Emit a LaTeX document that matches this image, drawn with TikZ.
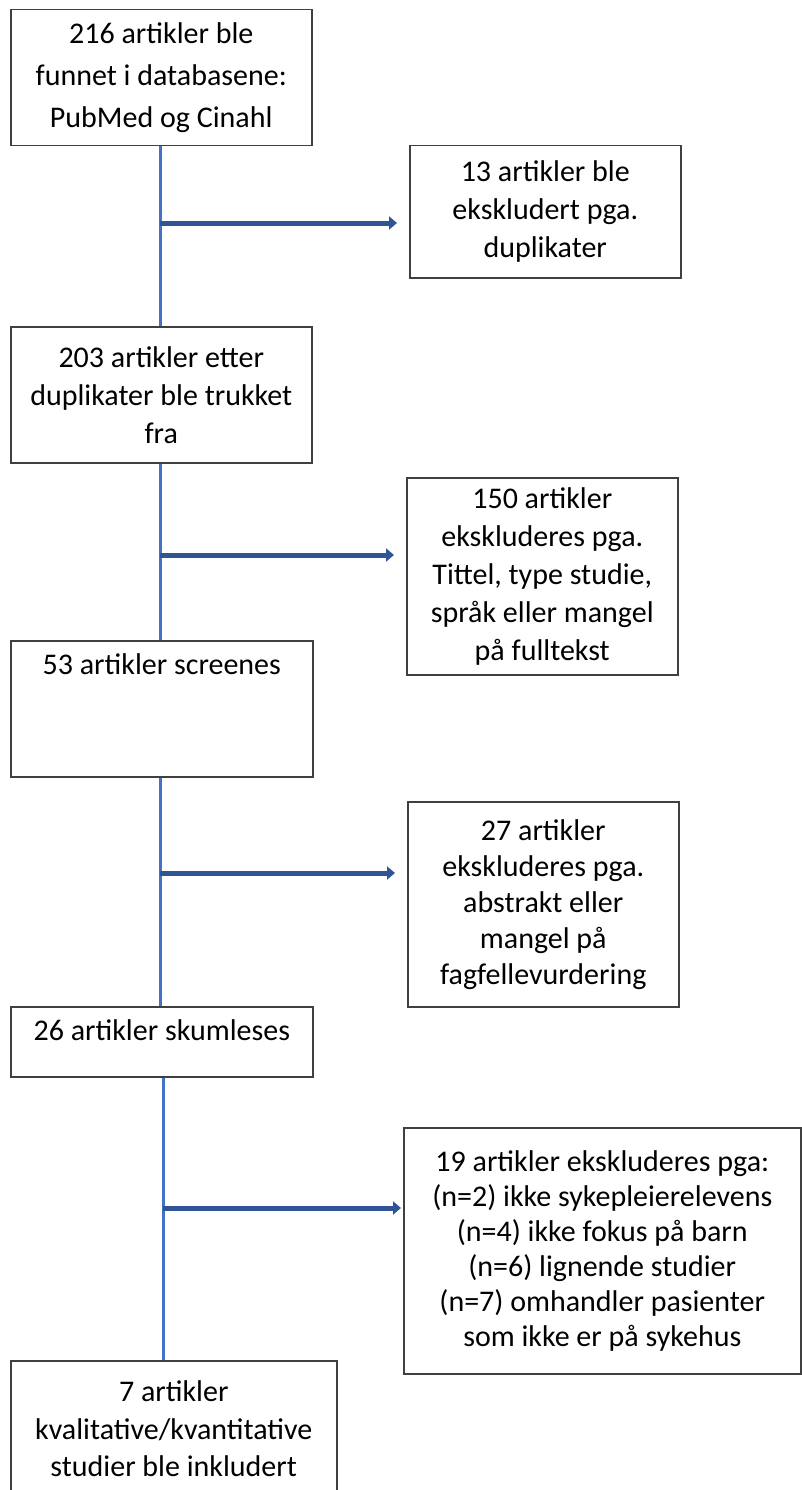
\documentclass[tikz,border=0pt]{standalone}
\usepackage{fontspec}
\setmainfont{Carlito}
\usetikzlibrary{arrows.meta,positioning}
\definecolor{spineblue}{HTML}{4472C4}
\definecolor{arrowblue}{HTML}{2F5597}
\definecolor{boxgray}{HTML}{404040}
\tikzstyle{every node}=[font=\fontsize{30}{38}\selectfont]
\tikzstyle{flowbox}=[draw=boxgray,line width=1.5pt,anchor=north west,align=center,inner sep=0pt]
\tikzstyle{spine}=[spineblue,line width=3pt]
\tikzstyle{branch}=[arrowblue,line width=5pt,-{Triangle[length=8pt,width=13pt]},shorten >=12pt]

\begin{document}
\begin{tikzpicture}[x=1pt,y=-1pt]
\useasboundingbox (0,0) rectangle (801,1490);
% main column
\node[flowbox,minimum width=301pt,minimum height=136pt,font=\fontsize{30}{42}\selectfont] (found) at (10,9)
    {216 artikler ble\\funnet i databasene:\\PubMed og Cinahl};
\node[flowbox,minimum width=301pt,minimum height=136pt] (dup) at (10,326)
    {203 artikler etter\\duplikater ble trukket\\fra};
\node[flowbox,minimum width=302pt,text height=34pt,text depth=102pt] (screen) at (10,640)
    {53 artikler screenes};
\node[flowbox,minimum width=302pt,text height=34pt,text depth=36pt] (skim) at (10,1006)
    {26 artikler skumleses};
\node[flowbox,minimum width=326pt,minimum height=136pt,font=\fontsize{30}{37.5}\selectfont] (incl) at (10,1360)
    {7 artikler\\kvalitative/kvantitative\\studier ble inkludert};
% exclusions
\node[flowbox,minimum width=271pt,minimum height=132pt] (excl1) at (409,145)
    {13 artikler ble\\ekskludert pga.\\duplikater};
\node[flowbox,minimum width=271pt,minimum height=197pt] (excl2) at (406,477)
    {150 artikler\\ekskluderes pga.\\Tittel, type studie,\\språk eller mangel\\på fulltekst};
\node[flowbox,minimum width=271pt,minimum height=205pt,font=\fontsize{30}{36}\selectfont] (excl3) at (407,801)
    {27 artikler\\ekskluderes pga.\\abstrakt eller\\mangel på\\fagfellevurdering};
\node[flowbox,minimum width=397pt,minimum height=246pt,font=\fontsize{30}{35}\selectfont] (excl4) at (403,1127)
    {19 artikler ekskluderes pga:\\(n=2) ikke sykepleierelevens\\(n=4) ikke fokus på barn\\(n=6) lignende studier\\(n=7) omhandler pasienter\\som ikke er på sykehus};
% spine
\coordinate (sx) at (160,0);
\coordinate (sx2) at (163,0);
\draw[spine] (found.south -| sx) -- (dup.north -| sx);
\draw[spine] (dup.south -| sx) -- (screen.north -| sx);
\draw[spine] (screen.south -| sx) -- (skim.north -| sx);
\draw[spine] (skim.south -| sx2) -- (incl.north -| sx2);
% branches
\coordinate (j1) at (160,223);
\coordinate (j2) at (160,555);
\coordinate (j3) at (160,873);
\coordinate (j4) at (163,1208);
\draw[branch] (j1) -- (j1 -| excl1.west);
\draw[branch] (j2) -- (j2 -| excl2.west);
\draw[branch] (j3) -- (j3 -| excl3.west);
\draw[branch,shorten >=2pt] (j4) -- (j4 -| excl4.west);
\end{tikzpicture}
\end{document}
